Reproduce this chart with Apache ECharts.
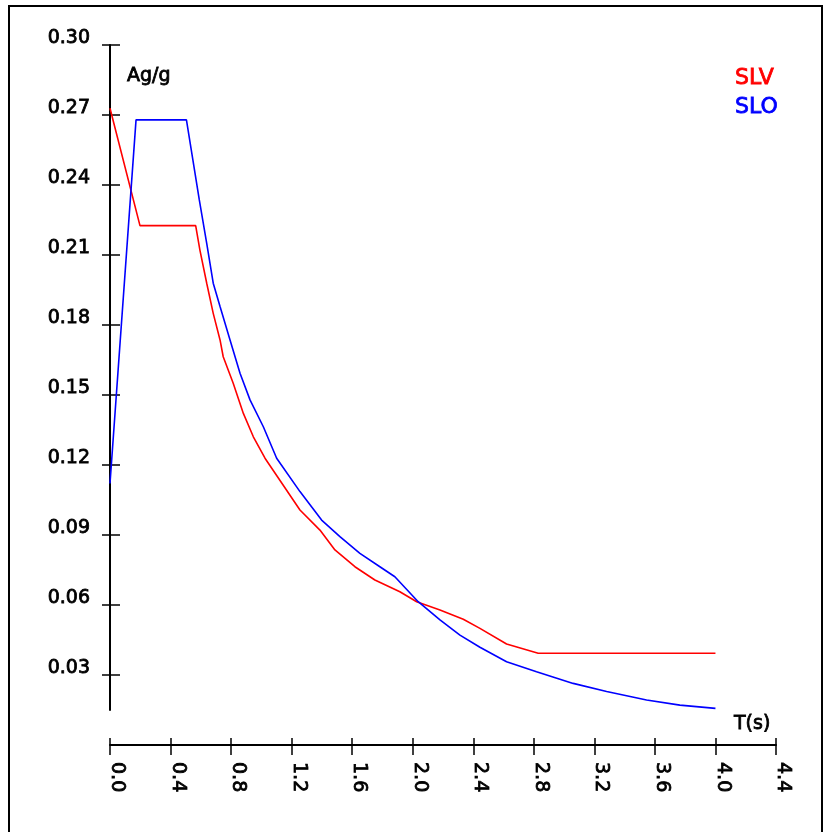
<!DOCTYPE html>
<html>
<head>
<meta charset="utf-8">
<script src="https://cdn.jsdelivr.net/npm/echarts@6/dist/echarts.min.js"></script>
<style>
html,body{margin:0;padding:0;background:#fff;}
#chart{width:824px;height:832px;}
</style>
</head>
<body>
<div id="chart"></div>
<script>
// ---- data ----
const seriesNames = ['SLV', 'SLO'];
const slvT = [0, 0.198, 0.566, 0.594, 0.639, 0.682, 0.727, 0.748, 0.814, 0.881, 0.947, 1.024, 1.255, 1.387, 1.486, 1.618, 1.750, 1.915, 2.026, 2.180, 2.334, 2.444, 2.620, 2.829, 4.0];
const slvV = [0.2729, 0.2226, 0.2226, 0.2121, 0.1979, 0.1850, 0.1736, 0.1664, 0.1550, 0.1421, 0.1321, 0.1229, 0.1007, 0.0921, 0.0836, 0.0764, 0.0707, 0.0657, 0.0614, 0.0579, 0.0539, 0.0500, 0.0433, 0.0393, 0.0393];
const sloT = [0, 0.172, 0.505, 0.590, 0.639, 0.682, 0.727, 0.793, 0.859, 0.925, 1.013, 1.101, 1.255, 1.398, 1.519, 1.651, 1.783, 1.882, 2.036, 2.180, 2.312, 2.444, 2.620, 2.818, 3.060, 3.281, 3.545, 3.765, 4.0];
const sloV = [0.1121, 0.2679, 0.2679, 0.2336, 0.2150, 0.1979, 0.1879, 0.1736, 0.1593, 0.1479, 0.1364, 0.1229, 0.1086, 0.0964, 0.0893, 0.0821, 0.0764, 0.0721, 0.0614, 0.0536, 0.0471, 0.0419, 0.0357, 0.0314, 0.0264, 0.0229, 0.0193, 0.0171, 0.0157];
const yTicks = [0.03, 0.06, 0.09, 0.12, 0.15, 0.18, 0.21, 0.24, 0.27, 0.30];
const xMin = 0, xMax = 4.4, xStep = 0.4;
const yMin = 0.015, yMax = 0.30;
const yName = 'Ag/g';
const xName = 'T(s)';

const FONT = 'DejaVu Sans';
const pair = (t, v) => t.map((x, i) => [x, v[i]]);

const chart = echarts.init(document.getElementById('chart'), null, {renderer: 'canvas'});
const axisLine = {show: true, lineStyle: {color: '#000', width: 2}};
const tickStyle = {color: '#000', width: 1.5};
const heavy = {textBorderColor: '#000', textBorderWidth: 0.8};

const option = {
  backgroundColor: '#fff',
  animation: false,
  graphic: [{
    type: 'rect', z: 100, silent: true,
    shape: {x: 9, y: 6, width: 813, height: 830},
    style: {fill: 'none', stroke: '#000', lineWidth: 2}
  }],
  legend: {
    orient: 'vertical', left: 725, top: 62, icon: 'none', itemWidth: 0, itemHeight: 22, itemGap: 6,
    selectedMode: false,
    textStyle: {fontFamily: FONT, fontSize: 22},
    data: [
      {name: seriesNames[0], textStyle: {color: '#ff0000', textBorderColor: '#ff0000', textBorderWidth: 0.8}},
      {name: seriesNames[1], textStyle: {color: '#0000ff', textBorderColor: '#0000ff', textBorderWidth: 0.8}}
    ]
  },
  grid: {left: 110, top: 45, width: 666, height: 665, containLabel: false},
  xAxis: [{
    type: 'value', min: xMin, max: xMax, interval: xStep, position: 'bottom', offset: 35,
    axisLine: axisLine, splitLine: {show: false},
    axisTick: {show: true, inside: false, length: 10, lineStyle: tickStyle},
    axisLabel: Object.assign({
      rotate: -90, margin: 17, color: '#000', fontFamily: FONT, fontSize: 19,
      verticalAlign: 'bottom', lineHeight: 14,
      formatter: v => v.toFixed(1)
    }, heavy),
    name: xName, nameLocation: 'end', nameGap: -42,
    nameTextStyle: Object.assign({fontFamily: FONT, fontSize: 19, color: '#000', align: 'left', verticalAlign: 'bottom', lineHeight: 42}, heavy)
  }, {
    type: 'value', min: xMin, max: xMax, interval: xStep, position: 'bottom', offset: 35,
    axisLine: {show: false}, splitLine: {show: false},
    axisTick: {show: true, inside: true, length: 7, lineStyle: tickStyle},
    axisLabel: {show: false}
  }],
  yAxis: [{
    type: 'value', min: yMin, max: yMax, position: 'left',
    axisLine: axisLine, splitLine: {show: false},
    axisTick: {show: true, inside: false, length: 8, lineStyle: tickStyle, customValues: yTicks},
    axisLabel: Object.assign({
      margin: 20, color: '#000', fontFamily: FONT, fontSize: 19,
      verticalAlign: 'bottom', lineHeight: 14,
      customValues: yTicks, formatter: v => v.toFixed(2)
    }, heavy),
    name: yName, nameLocation: 'end', nameGap: -31,
    nameTextStyle: Object.assign({fontFamily: FONT, fontSize: 19, color: '#000', align: 'left', verticalAlign: 'middle', padding: [0, 0, 0, 17]}, heavy)
  }, {
    type: 'value', min: yMin, max: yMax, position: 'left',
    axisLine: {show: false}, splitLine: {show: false},
    axisTick: {show: true, inside: true, length: 10, lineStyle: tickStyle, customValues: yTicks},
    axisLabel: {show: false, customValues: yTicks}
  }],
  series: [{
    name: seriesNames[0], type: 'line', xAxisIndex: 0, yAxisIndex: 0,
    data: pair(slvT, slvV), showSymbol: false, symbol: 'none',
    lineStyle: {color: '#ff0000', width: 1.6}, itemStyle: {color: '#ff0000'}
  }, {
    name: seriesNames[1], type: 'line', xAxisIndex: 0, yAxisIndex: 0,
    data: pair(sloT, sloV), showSymbol: false, symbol: 'none',
    lineStyle: {color: '#0000ff', width: 1.6}, itemStyle: {color: '#0000ff'}
  }]
};
chart.setOption(option);
</script>
</body>
</html>
